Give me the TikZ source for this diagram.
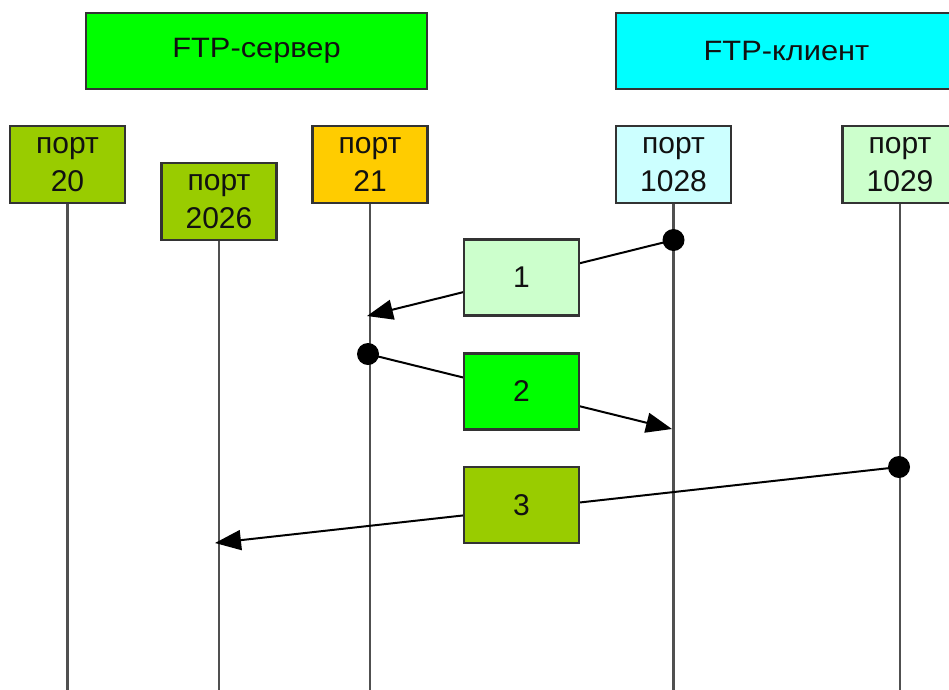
\documentclass[tikz,border=0pt]{standalone}
\usepackage{fontspec}
\setmainfont{Liberation Sans}
\usetikzlibrary{arrows.meta}
\definecolor{hdrgreen}{HTML}{00FF00}
\definecolor{hdrcyan}{HTML}{00FFFF}
\definecolor{olivegreen}{HTML}{99CC00}
\definecolor{amber}{HTML}{FFCC00}
\definecolor{palecyan}{HTML}{CCFFFF}
\definecolor{palegreen}{HTML}{CCFFCC}
\definecolor{boxline}{HTML}{333333}
\definecolor{lifegray}{HTML}{505050}
\definecolor{inktext}{HTML}{111111}
\begin{document}
\begin{tikzpicture}[x=1pt,y=-1pt,
  box/.style={draw=boxline, line width=2.2pt, rectangle, inner sep=0pt, text=inktext},
  header/.style={box, minimum width=341pt, minimum height=76pt, font=\fontsize{28}{34}\selectfont},
  portbox/.style={box, minimum width=115pt, minimum height=77pt, align=center, font=\fontsize{30}{38}\selectfont},
  msgbox/.style={box, minimum width=115pt, minimum height=76pt, font=\fontsize{30}{36}\selectfont},
  lifeline/.style={draw=lifegray, line width=2.5pt},
  msg/.style={line width=2pt, -{Triangle[length=26pt,width=20pt]}},
  dot/.style={circle, fill=black, inner sep=0pt, minimum size=22pt}]
\useasboundingbox (0,0) rectangle (949,689);

% lifelines (drawn first, ports sit on top)
\coordinate (e20)   at (67.5,700);
\coordinate (e2026) at (219,700);
\coordinate (e21)   at (370,700);
\coordinate (e1028) at (673.5,700);
\coordinate (e1029) at (900,700);
\draw[lifeline] (67.5,200) -- (e20);
\draw[lifeline] (219,238) -- (e2026);
\draw[lifeline] (370,200) -- (e21);
\draw[lifeline] (673.5,200) -- (e1028);
\draw[lifeline] (900,200) -- (e1029);

% headers
\node[header, fill=hdrgreen] (srv) at (256.5,51) {\scalebox{1.1}[1]{FTP-сервер}};
\node[header, fill=hdrcyan]  (cli) at (786.5,51) {\scalebox{1.1}[1]{FTP-клиент}};

% ports
\node[portbox, fill=olivegreen] (p20)   at (67.5,164.5)  {порт\\20};
\node[portbox, fill=olivegreen] (p2026) at (219,201.5)   {порт\\2026};
\node[portbox, fill=amber]      (p21)   at (370,164.5)   {порт\\21};
\node[portbox, fill=palecyan]   (p1028) at (673.5,164.5) {порт\\1028};
\node[portbox, fill=palegreen]  (p1029) at (900,164.5)   {порт\\1029};

% message end points
\coordinate (s1) at (673.5,240);
\coordinate (t1) at (367,316);
\coordinate (s2) at (368,354);
\coordinate (t2) at (672,429);
\coordinate (s3) at (899,467);
\coordinate (t3) at (215,543);

% messages
\draw[msg] (s1) -- (t1);
\draw[msg] (s2) -- (t2);
\draw[msg] (s3) -- (t3);
\node[dot] (dot1) at (s1) {};
\node[dot] (dot2) at (s2) {};
\node[dot] (dot3) at (s3) {};

% message labels
\node[msgbox, fill=palegreen]  (m1) at (521.5,277.5) {1};
\node[msgbox, fill=hdrgreen]   (m2) at (521.5,391.5) {2};
\node[msgbox, fill=olivegreen] (m3) at (521.5,505)   {3};
\end{tikzpicture}
\end{document}
